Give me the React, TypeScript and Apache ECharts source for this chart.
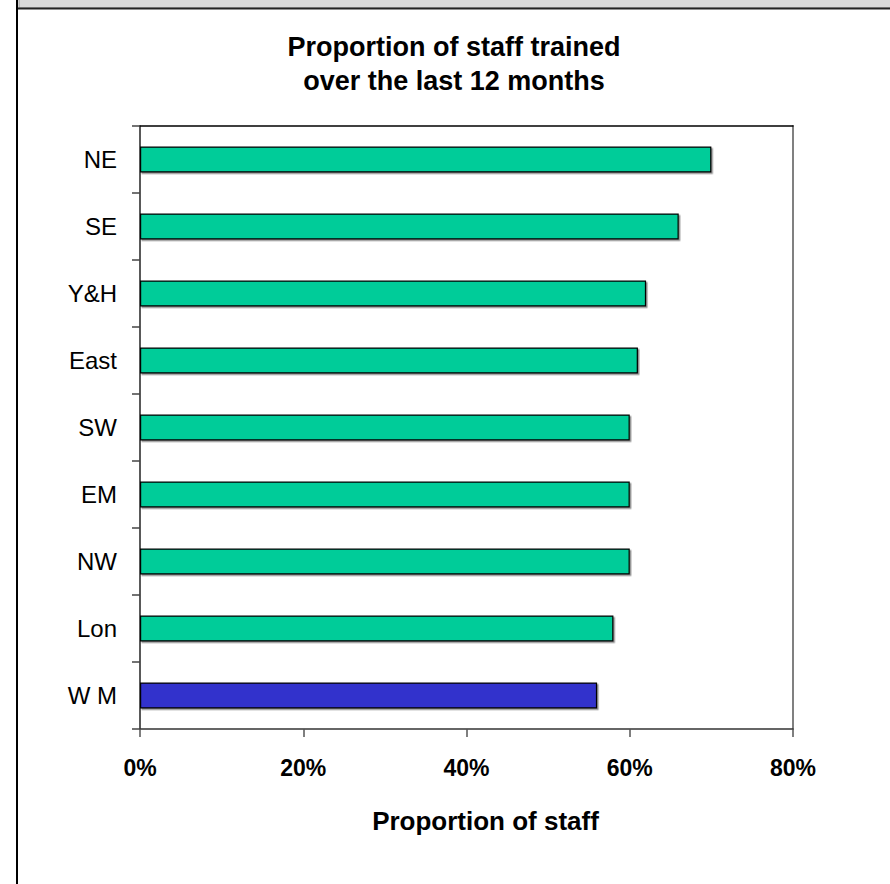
import React, { useEffect, useRef } from "react";
import * as echarts from "echarts";

const regions = ["NE", "SE", "Y&H", "East", "SW", "EM", "NW", "Lon", "W M"];
const proportions = [70, 66, 62, 61, 60, 60, 60, 58, 56];
const highlighted = [false, false, false, false, false, false, false, false, true];
const xTicks = [0, 20, 40, 60, 80];

const FONT = "'Liberation Sans', Arial, sans-serif";

export default function App() {
  const ref = useRef<HTMLDivElement>(null);

  useEffect(() => {
    if (!ref.current) return;
    const chart = echarts.init(ref.current, undefined, { renderer: "svg" });

    const data = proportions.map((v, i) => ({
      value: v,
      itemStyle: { color: highlighted[i] ? "#3333CC" : "#00CC99" },
    }));

    chart.setOption({
      animation: false,
      backgroundColor: "#ffffff",
      title: {
        text: "Proportion of staff trained\nover the last 12 months",
        left: 449,
        top: 25,
        textAlign: "center",
        textStyle: {
          fontFamily: FONT,
          fontWeight: "bold",
          fontSize: 27,
          lineHeight: 34,
          color: "#000",
        },
      },
      grid: { left: 140, right: 97, top: 126, bottom: 155, containLabel: false },
      xAxis: [
        {
          type: "value",
          min: xTicks[0],
          max: xTicks[xTicks.length - 1],
          interval: 20,
          position: "bottom",
          name: "Proportion of staff",
          nameLocation: "middle",
          nameGap: 79,
          nameTextStyle: {
            fontFamily: FONT,
            fontWeight: "bold",
            fontSize: 26,
            color: "#000",
            padding: [0, 0, 0, 38],
          },
          axisLine: { show: true, onZero: false, lineStyle: { color: "#333", width: 1.5 } },
          axisTick: { show: true, inside: false, length: 8, lineStyle: { color: "#555", width: 1.5 } },
          axisLabel: {
            formatter: "{value}%",
            fontFamily: FONT,
            fontWeight: "bold",
            fontSize: 23,
            color: "#000",
            margin: 27,
          },
          splitLine: { show: false },
        },
        {
          type: "value",
          min: xTicks[0],
          max: xTicks[xTicks.length - 1],
          position: "top",
          axisLine: { show: true, onZero: false, lineStyle: { color: "#000", width: 1.5 } },
          axisTick: { show: false },
          axisLabel: { show: false },
          splitLine: { show: false },
        },
      ],
      yAxis: [
        {
          type: "category",
          data: regions,
          inverse: true,
          position: "left",
          axisLine: { show: true, onZero: false, lineStyle: { color: "#222", width: 1.5 } },
          axisTick: { show: true, inside: false, length: 8, lineStyle: { color: "#444", width: 1.5 } },
          axisLabel: {
            fontFamily: FONT,
            fontSize: 24,
            color: "#000",
            margin: 23,
          },
          splitLine: { show: false },
        },
        {
          type: "category",
          data: regions,
          inverse: true,
          position: "right",
          axisLine: { show: true, onZero: false, lineStyle: { color: "#808080", width: 2 } },
          axisTick: { show: false },
          axisLabel: { show: false },
          splitLine: { show: false },
        },
      ],
      series: [
        {
          type: "bar",
          xAxisIndex: 0,
          yAxisIndex: 0,
          data,
          barWidth: 26,
          itemStyle: {
            borderColor: "#000",
            borderWidth: 1.2,
            shadowColor: "rgba(0,0,0,0.45)",
            shadowOffsetX: 1.5,
            shadowOffsetY: 1.5,
            shadowBlur: 0,
          },
          emphasis: { disabled: true },
        },
      ],
      graphic: [
        {
          type: "rect",
          shape: { x: 19, y: -2, width: 880, height: 10 },
          style: { fill: "#d9d9d9", stroke: "#9a9a9a", lineWidth: 1 },
          silent: true,
        },
        {
          type: "line",
          shape: { x1: 16, y1: 8.5, x2: 890, y2: 8.5 },
          style: { stroke: "#222", lineWidth: 2 },
          silent: true,
        },
        {
          type: "line",
          shape: { x1: 17, y1: 0, x2: 17, y2: 884 },
          style: { stroke: "#000", lineWidth: 2 },
          silent: true,
        },
      ],
    });

    return () => {
      chart.dispose();
    };
  }, []);

  return (
    <div
      ref={ref}
      style={{ position: "fixed", left: 0, top: 0, width: 890, height: 884 }}
    />
  );
}
